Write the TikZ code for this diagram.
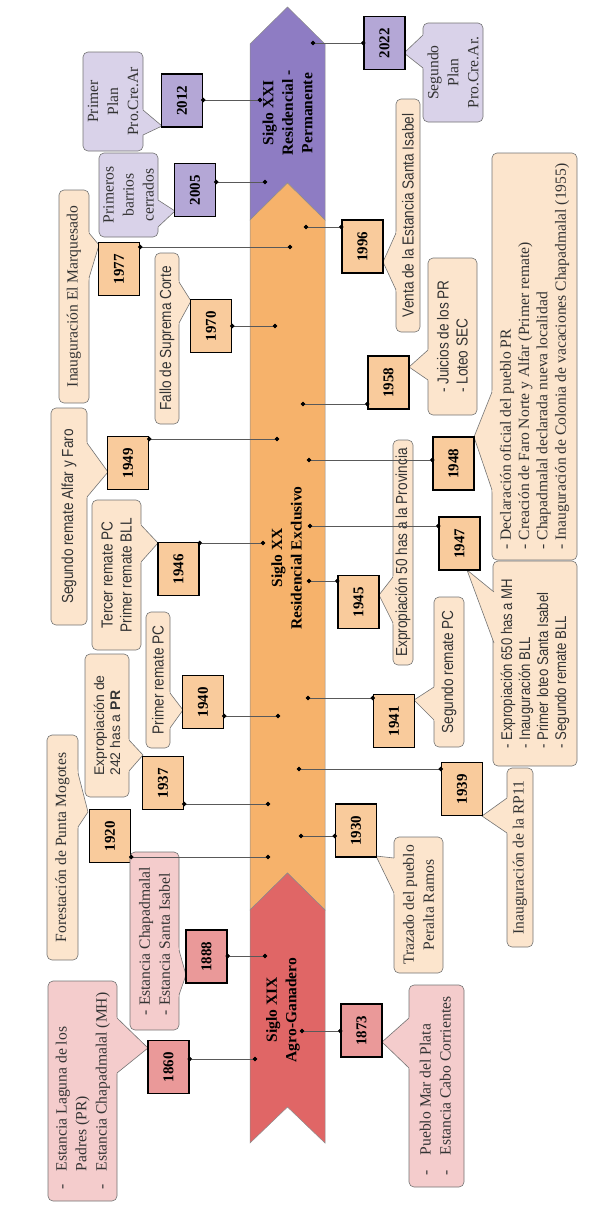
\documentclass[tikz,border=0pt]{standalone}
\usepackage{fontspec}
\setmainfont{Liberation Serif}
\newfontfamily\narrowsf[FakeStretch=0.85]{Liberation Sans}
\newfontfamily\arialsf{Liberation Sans}
\usetikzlibrary{arrows.meta,calc}

\definecolor{xxipurple}{HTML}{8E7CC3}
\definecolor{xxorange}{HTML}{F6B26B}
\definecolor{xixred}{HTML}{E06666}
\definecolor{yrpurple}{HTML}{B4A7D6}
\definecolor{yrorange}{HTML}{F9CB9C}
\definecolor{yrred}{HTML}{EA9999}
\definecolor{ntpurple}{HTML}{D9D2E9}
\definecolor{ntorange}{HTML}{FCE5CD}
\definecolor{ntred}{HTML}{F4CCCC}

% pointer of a callout: fill colour, base point, tip, base point
\newcommand\callptr[4]{%
  \fill[#1] ($(#3)!1.12!(#2)$) -- (#3) -- ($(#3)!1.12!(#4)$) -- cycle;
  \draw[ptr] (#2) -- (#3) -- (#4);}

\begin{document}
\begin{tikzpicture}[x=1pt, y=-1pt,
  era/.style={draw=black!45, line width=0.5pt},
  eralab/.style={rotate=90, align=center, font=\fontsize{15.5}{19.5}\selectfont\bfseries},
  yr/.style={draw=black, line width=1.4pt, minimum width=41pt, minimum height=53pt,
    inner sep=0pt, font=\fontsize{15}{16}\selectfont\bfseries},
  note/.style={draw=black!55, line width=0.6pt, rounded corners=5pt, rotate=90,
    inner sep=2pt, align=center, text=black!80, font=\fontsize{15.6}{20}\selectfont},
  narrow/.style={font=\narrowsf\fontsize{16}{19}\selectfont},
  notep/.style={note, fill=ntpurple},
  noteo/.style={note, fill=ntorange},
  noter/.style={note, fill=ntred},
  conn/.style={draw=black!65, line width=0.7pt,
    {Circle[length=4.5pt, color=black]}-{Circle[length=4.5pt, color=black]},
    shorten <=-2.25pt, shorten >=-2.25pt},
  ptr/.style={draw=black!55, line width=0.6pt}]
\useasboundingbox (0,0) rectangle (591,1211);

% the three eras
\filldraw[era, fill=xxipurple] (287.5,7) -- (325,44) -- (325,220) -- (287.5,183)
  -- (250,220) -- (250,44) -- cycle;
\filldraw[era, fill=xxorange] (287.5,183) -- (325,220) -- (325,910) -- (287.5,873)
  -- (250,910) -- (250,220) -- cycle;
\filldraw[era, fill=xixred] (287.5,873) -- (325,910) -- (325,1143) -- (287.5,1107)
  -- (250,1143) -- (250,910) -- cycle;
\node[eralab] (lxxi) at (287.5,113) {Siglo XXI\\Residencial -\\Permanente};
\node[eralab] (lxx) at (286.5,558) {Siglo XX\\Residencial Exclusivo};
\node[eralab] (lxix) at (283,1010) {Siglo XIX\\Agro-Ganadero};

% Siglo XXI
\node[notep, minimum width=99pt, minimum height=60pt] (c2012) at (113,101.5)
  {Primer\\Plan\\Pro.Cre.Ar};
\callptr{ntpurple}{143,110}{162,126}{143,135}
\node[notep, minimum width=84pt, minimum height=59pt] (c2005) at (128.5,195)
  {Primeros\\barrios\\cerrados};
\callptr{ntpurple}{158,200}{175,211}{158,227}
\node[notep, minimum width=99pt, minimum height=60pt] (c2022) at (453,72.5)
  {Segundo\\Plan\\Pro.Cre.Ar.};
\callptr{ntpurple}{423,35}{404,53}{423,68}

\node[yr, fill=yrpurple] (y2012) at (182,100.5) {\rotatebox{90}{2012}};
\node[yr, fill=yrpurple] (y2005) at (195,190) {\rotatebox{90}{2005}};
\node[yr, fill=yrpurple] (y2022) at (384.5,43) {\rotatebox{90}{2022}};

% Siglo XX
\node[noteo, minimum width=213pt, minimum height=30pt] (c1977) at (74,296.5)
  {Inauguración El Marquesado};
\callptr{ntorange}{89,233}{99,245}{89,278}
\node[noteo, narrow, minimum width=171pt, minimum height=24pt] (c1970) at (167,338.5)
  {Fallo de Suprema Corte};
\callptr{ntorange}{179,282}{191,301}{179,323}
\node[noteo, narrow, minimum width=217pt, minimum height=36pt] (c1949) at (69,516.5)
  {Segundo remate Alfar y Faro};
\callptr{ntorange}{87,443}{108,472}{87,497}
\node[noteo, narrow, minimum width=150pt, minimum height=49pt] (c1946) at (116.5,575)
  {Tercer remate PC\\Primer remate BLL};
\callptr{ntorange}{141,525}{158,543}{141,562}
\node[noteo, narrow, minimum width=136pt, minimum height=24pt] (c1940) at (158,680)
  {Primer remate PC};
\callptr{ntorange}{170,693}{183,710}{170,728}
\node[noteo, align=left, font=\arialsf\fontsize{14}{16}\selectfont,
  minimum width=143pt, minimum height=44pt] (c1937) at (107,725.5)
  {Expropiación de\\242 has a \textbf{PR}};
\callptr{ntorange}{129,740}{143,755}{129,771}
\node[noteo, minimum width=225pt, minimum height=31pt] (c1920) at (62.5,847.5)
  {Forestación de Punta Mogotes};
\callptr{ntorange}{78,773}{88,812}{78,827}

\node[noteo, narrow, minimum width=233pt, minimum height=24pt] (c1996) at (408,215.5)
  {Venta de la Estancia Santa Isabel};
\callptr{ntorange}{396,233}{383,262}{396,290}
\node[noteo, narrow, align=left, minimum width=157pt, minimum height=49pt] (c1958)
  at (452.5,336.5) {- Juicios de los PR\\- Loteo SEC};
\callptr{ntorange}{428,350}{409,367}{428,380}
\node[noteo, align=left, font=\fontsize{15.6}{18.3}\selectfont,
  minimum width=407pt, minimum height=85pt] (c1948) at (534.5,356.5)
  {- Declaración oficial del pueblo PR\\- Creación de Faro Norte y Alfar (Primer remate)\\
   - Chapadmalal declarada nueva localidad\\- Inauguración de Colonia de vacaciones Chapadmalal (1955)};
\callptr{ntorange}{492,392}{474,437}{492,490}
\node[noteo, narrow, inner sep=1pt, minimum width=225pt, minimum height=20pt] (c1945)
  at (403,552.5) {Expropiación 50 has a la Provincia};
\callptr{ntorange}{393,577}{379,595}{393,623}
\node[noteo, narrow, align=left, font=\narrowsf\fontsize{15.5}{18}\selectfont,
  minimum width=205pt, minimum height=84pt] (c1947)
  at (535,663.5) {- Expropiación 650 has a MH\\- Inauguración BLL\\- Primer loteo Santa Isabel\\- Segundo remate BLL};
\callptr{ntorange}{494,592}{467,570}{494,643}
\node[noteo, narrow, minimum width=150pt, minimum height=30pt] (c1941) at (449,672)
  {Segundo remate PC};
\callptr{ntorange}{434,687}{414,700}{434,720}
\node[noteo, minimum width=179pt, minimum height=26pt] (c1939) at (520,857.5)
  {Inauguración de la RP11};
\callptr{ntorange}{507,798}{482,816}{507,833}
\node[noteo, minimum width=136pt, minimum height=49pt] (c1930) at (418.5,905)
  {Trazado del pueblo\\Peralta Ramos};
\callptr{ntorange}{394,858}{376,856}{394,893}

\node[yr, fill=yrorange] (y1977) at (119,269) {\rotatebox{90}{1977}};
\node[yr, fill=yrorange] (y1970) at (211,326) {\rotatebox{90}{1970}};
\node[yr, fill=yrorange] (y1949) at (128,463) {\rotatebox{90}{1949}};
\node[yr, fill=yrorange] (y1946) at (178.5,569) {\rotatebox{90}{1946}};
\node[yr, fill=yrorange] (y1940) at (203,702) {\rotatebox{90}{1940}};
\node[yr, fill=yrorange] (y1937) at (163,783) {\rotatebox{90}{1937}};
\node[yr, fill=yrorange] (y1920) at (110,836) {\rotatebox{90}{1920}};
\node[yr, fill=yrorange] (y1996) at (362.5,246.5) {\rotatebox{90}{1996}};
\node[yr, fill=yrorange] (y1958) at (388.5,382.5) {\rotatebox{90}{1958}};
\node[yr, fill=yrorange] (y1948) at (453.5,463.5) {\rotatebox{90}{1948}};
\node[yr, fill=yrorange] (y1947) at (459.5,543.5) {\rotatebox{90}{1947}};
\node[yr, fill=yrorange] (y1945) at (358.5,602) {\rotatebox{90}{1945}};
\node[yr, fill=yrorange] (y1941) at (394,721) {\rotatebox{90}{1941}};
\node[yr, fill=yrorange] (y1939) at (462,789) {\rotatebox{90}{1939}};
\node[yr, fill=yrorange] (y1930) at (356,830.5) {\rotatebox{90}{1930}};

% Siglo XIX
\node[noter, align=left, minimum width=178pt, minimum height=49pt] (c1888) at (154.5,941)
  {- Estancia Chapadmalal\\- Estancia Santa Isabel};
\callptr{ntred}{179,950}{186,975}{179,995}
\node[noter, minimum width=220pt, minimum height=69pt] (c1860) at (82.5,1091)
  {\begin{tabular}{@{}l@{\hspace{13pt}}l@{}}-&Estancia Laguna de los\\&Padres (PR)\\-&Estancia Chapadmalal (MH)\end{tabular}};
\callptr{ntred}{117,1018}{148,1048}{117,1073}
\node[noter, minimum width=202pt, minimum height=55pt] (c1873) at (436.5,1086)
  {\begin{tabular}{@{}l@{\hspace{15pt}}l@{}}-&Pueblo Mar del Plata\\-&Estancia Cabo Corrientes\end{tabular}};
\callptr{ntred}{409,1018}{382,1042}{409,1068}

\node[yr, fill=yrred] (y1888) at (206.5,956.5) {\rotatebox{90}{1888}};
\node[yr, fill=yrred] (y1860) at (168.5,1067) {\rotatebox{90}{1860}};
\node[yr, fill=yrred] (y1873) at (361.5,1030.5) {\rotatebox{90}{1873}};

% points on the timeline
\coordinate (d2012) at (260,100);
\coordinate (d2005) at (265,182);
\coordinate (d1977) at (290,247);
\coordinate (d1970) at (275,326);
\coordinate (d1949) at (277,439);
\coordinate (d1946) at (263,543);
\coordinate (d1940) at (278,716);
\coordinate (d1937) at (268,804);
\coordinate (d1920) at (268,857);
\coordinate (d1888) at (265,956);
\coordinate (d1860) at (255,1059);
\coordinate (d2022) at (313,43);
\coordinate (d1996) at (306,227);
\coordinate (d1958) at (303,404);
\coordinate (d1948) at (309,460);
\coordinate (d1947) at (310,526);
\coordinate (d1945) at (309,581);
\coordinate (d1941) at (308,698);
\coordinate (d1939) at (299,769);
\coordinate (d1930) at (301,836);
\coordinate (d1873) at (302,1031);

\foreach \n in {2012,2005,1977,1970,1949,1946,1940,1937,1920,1888,1860}
  \draw[conn] (d\n) -- (d\n -| y\n.east);
\foreach \n in {2022,1996,1958,1948,1947,1945,1941,1939,1930,1873}
  \draw[conn] (d\n) -- (d\n -| y\n.west);
\end{tikzpicture}
\end{document}
